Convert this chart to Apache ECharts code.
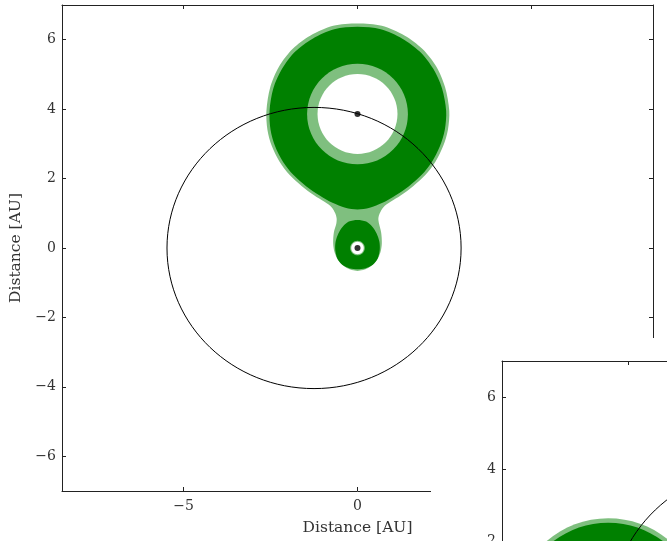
<!DOCTYPE html>
<html>
<head>
<meta charset="utf-8">
<script src="https://cdn.jsdelivr.net/npm/echarts@6/dist/echarts.min.js"></script>
<style>html,body{margin:0;padding:0;background:#fff;}#c{width:667px;height:541px;}</style>
</head>
<body>
<div id="c"></div>
<script>
// ---- data (units: AU) ----
const xRange = [-8.5, 8.5];
const yRange = [-7, 7];
const xTicks = [-5, 0, 5];
const yTicks = [-6, -4, -2, 0, 2, 4, 6];
const axisTitle = 'Distance [AU]';

const star = [0, 0];
const planet = [0, 3.86];
const orbitCenter = [-1.25, 0];
const orbitRadii = [4.23, 4.05];

// outer (light) boundary of the lobe structure around planet + star
const lobeLight = [
  [0, 6.47], [0.7, 6.4], [1.35, 6.12], [1.87, 5.73], [2.27, 5.22], [2.52, 4.63], [2.64, 3.95],
  [2.6, 3.4], [2.47, 2.95], [2.25, 2.5], [1.95, 2.1], [1.6, 1.78], [1.25, 1.52],
  [0.95, 1.33], [0.74, 1.17], [0.64, 1.0], [0.6, 0.85], [0.62, 0.7], [0.68, 0.45], [0.7, 0.14],
  [0.66, -0.12], [0.55, -0.36], [0.32, -0.57], [0, -0.66],
  [-0.32, -0.57], [-0.55, -0.36], [-0.66, -0.12], [-0.7, 0.14], [-0.68, 0.45], [-0.61, 0.7],
  [-0.6, 0.85], [-0.64, 1.0], [-0.74, 1.17], [-0.95, 1.33], [-1.25, 1.52], [-1.6, 1.78],
  [-1.95, 2.1], [-2.25, 2.5], [-2.47, 2.95], [-2.59, 3.4], [-2.62, 3.95],
  [-2.51, 4.63], [-2.26, 5.22], [-1.87, 5.73], [-1.35, 6.12], [-0.7, 6.4]
];
// dark region around the planet
const lobeDark = [
  [0, 6.37], [0.67, 6.3], [1.29, 6.03], [1.79, 5.66], [2.18, 5.16], [2.43, 4.6], [2.55, 3.95],
  [2.51, 3.4], [2.37, 2.93], [2.14, 2.48], [1.84, 2.1], [1.48, 1.78], [1.1, 1.52],
  [0.72, 1.3], [0.35, 1.16], [0, 1.11],
  [-0.35, 1.16], [-0.72, 1.3], [-1.1, 1.52], [-1.48, 1.78], [-1.84, 2.1], [-2.14, 2.48],
  [-2.37, 2.93], [-2.5, 3.4], [-2.53, 3.95], [-2.42, 4.6], [-2.17, 5.16],
  [-1.79, 5.66], [-1.29, 6.03], [-0.67, 6.3]
];
// dark region around the star
const starDark = [
  [0, 0.81], [0.25, 0.76], [0.42, 0.62], [0.55, 0.42], [0.63, 0.18], [0.64, -0.05], [0.58, -0.3],
  [0.43, -0.49], [0.22, -0.59], [0, -0.61],
  [-0.22, -0.59], [-0.43, -0.49], [-0.58, -0.3], [-0.64, -0.05], [-0.63, 0.18], [-0.55, 0.42],
  [-0.42, 0.62], [-0.25, 0.76]
];
const planetHoleRadii = [1.45, 1.15];   // light ring, white hole
const starHoleRadii = [0.21, 0.18];     // light ring, white hole

// second (overlapping) panel: planet near apoapsis
const insetCenter = [-5.55, 0];
const insetLobeRadii = [2.63, 2.51];

// ---- drawing ----
const DARK = '#008000', LIGHT = '#7fbf7f';
const FONT = 'DejaVu Serif';
const fmt = v => (v < 0 ? '\u2212' + Math.abs(v) : String(v));

function polySeries(pts, color, xi, z, z2) {
  return {
    type: 'custom', xAxisIndex: xi, yAxisIndex: xi, z: z, silent: true, data: pts,
    renderItem: (p, api) => p.dataIndex !== 0 ? null : {
      type: 'polygon', z2: z2,
      shape: { points: pts.map(q => api.coord(q)), smooth: 0.3 },
      style: { fill: color }
    }
  };
}
function ellSeries(center, radii, fill, stroke, xi, z, z2) {
  return {
    type: 'custom', xAxisIndex: xi, yAxisIndex: xi, z: z, silent: true, data: [center],
    renderItem: (p, api) => {
      const c = api.coord(center);
      const s = api.size([radii[0], radii[1]]);
      return {
        type: 'ellipse', z2: z2,
        shape: { cx: c[0], cy: c[1], rx: s[0], ry: s[1] },
        style: stroke ? { fill: 'none', stroke: stroke, lineWidth: 1 } : { fill: fill }
      };
    }
  };
}

function axes(gi, z) {
  const lineStyle = { color: '#222', width: 1 };
  const tickX = { inside: true, length: 4, lineStyle: lineStyle, customValues: xTicks };
  const tickY = { inside: true, length: 4, lineStyle: lineStyle, customValues: yTicks };
  const lab = { color: '#333', fontFamily: FONT, fontSize: 14 };
  const nameStyle = { color: '#333', fontFamily: FONT, fontSize: 15.5 };
  return {
    x: [
      { type: 'value', gridIndex: gi, min: xRange[0], max: xRange[1], position: 'bottom', z: z,
        axisLine: { onZero: false, lineStyle }, axisTick: tickX, splitLine: { show: false },
        axisLabel: Object.assign({ margin: 8, customValues: xTicks, formatter: fmt }, lab),
        name: gi === 0 ? axisTitle : '', nameLocation: 'middle', nameGap: 29, nameTextStyle: nameStyle },
      { type: 'value', gridIndex: gi, min: xRange[0], max: xRange[1], position: 'top', z: z,
        axisLine: { onZero: false, lineStyle }, axisTick: tickX, splitLine: { show: false }, axisLabel: { show: false } }
    ],
    y: [
      { type: 'value', gridIndex: gi, min: yRange[0], max: yRange[1], position: 'left', z: z,
        axisLine: { onZero: false, lineStyle }, axisTick: tickY, splitLine: { show: false },
        axisLabel: Object.assign({ margin: 6, customValues: yTicks, formatter: fmt }, lab),
        name: gi === 0 ? axisTitle : '', nameLocation: 'middle', nameGap: 31, nameRotate: 90,
        nameTextStyle: nameStyle },
      { type: 'value', gridIndex: gi, min: yRange[0], max: yRange[1], position: 'right', z: z,
        axisLine: { onZero: false, lineStyle }, axisTick: tickY, splitLine: { show: false }, axisLabel: { show: false } }
    ]
  };
}
const a0 = axes(0, 0), a1 = axes(1, 10);

const chart = echarts.init(document.getElementById('c'), null, { renderer: 'canvas' });
chart.setOption({
  animation: false,
  backgroundColor: '#fff',
  grid: [
    { left: 62, top: 5, width: 591, height: 486, outerBoundsMode: 'none', containLabel: false },
    { left: 502, top: 361, width: 612, height: 504, outerBoundsMode: 'none', containLabel: false }
  ],
  xAxis: [a0.x[0], a0.x[1], a1.x[0], a1.x[1]],
  yAxis: [a0.y[0], a0.y[1], a1.y[0], a1.y[1]],
  graphic: [{
    type: 'rect', z: 5, silent: true,
    shape: { x: 431, y: 338, width: 236, height: 203 },
    style: { fill: '#fff' }
  }],
  series: [
    polySeries(lobeLight, LIGHT, 0, 2, 1),
    polySeries(lobeDark, DARK, 0, 2, 2),
    polySeries(starDark, DARK, 0, 2, 3),
    ellSeries(planet, [planetHoleRadii[0], planetHoleRadii[0]], LIGHT, null, 0, 2, 4),
    ellSeries(planet, [planetHoleRadii[1], planetHoleRadii[1]], '#fff', null, 0, 2, 5),
    ellSeries(star, [starHoleRadii[0], starHoleRadii[0]], LIGHT, null, 0, 2, 4),
    ellSeries(star, [starHoleRadii[1], starHoleRadii[1]], '#fff', null, 0, 2, 5),
    ellSeries(orbitCenter, orbitRadii, null, '#000', 0, 2, 6),
    { type: 'scatter', xAxisIndex: 0, yAxisIndex: 0, z: 3, silent: true, symbolSize: 6,
      itemStyle: { color: '#000' }, data: [star, planet] },
    // second panel
    ellSeries(insetCenter, [insetLobeRadii[0], insetLobeRadii[0]], LIGHT, null, 2, 10, 1),
    ellSeries(insetCenter, [insetLobeRadii[1], insetLobeRadii[1]], DARK, null, 2, 10, 2),
    ellSeries(orbitCenter, orbitRadii, null, '#000', 2, 10, 3)
  ]
});
</script>
</body>
</html>
